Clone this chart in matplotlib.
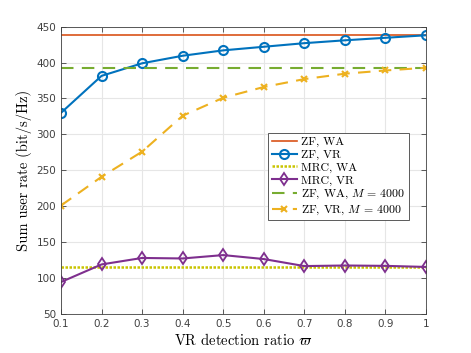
import numpy as np
from matplotlib import pyplot as plt

# VR detection ratio
ratio = [0.1, 0.2, 0.3, 0.4, 0.5, 0.6, 0.7, 0.8, 0.9, 1.0]

zf_wa = [438] * len(ratio)
zf_vr = [330, 381.5, 399, 409.5, 417, 422, 427, 431, 434.5, 438]
mrc_wa = [115] * len(ratio)
mrc_vr = [94.5, 119, 128, 127.3, 132, 126.5, 116.7, 117.5, 117, 115.5]
zf_wa_4000 = [393] * len(ratio)
zf_vr_4000 = [201, 241, 276, 326, 351, 366, 377, 384.5, 389, 392.8]

yticks = [50, 100, 150, 200, 250, 300, 350, 400, 450]
xticks = [0.1, 0.2, 0.3, 0.4, 0.5, 0.6, 0.7, 0.8, 0.9, 1]
xticklabels = ['0.1', '0.2', '0.3', '0.4', '0.5', '0.6', '0.7', '0.8', '0.9', '1']

plt.rcParams['mathtext.fontset'] = 'cm'
plt.rcParams['axes.unicode_minus'] = False
serif = 'cmr10'

f = plt.figure(figsize=(4.71, 3.53), dpi=100)
ax = f.add_axes([0.1295, 0.1105, 0.775, 0.814])

ax.plot(ratio, zf_wa, color='#D95319', lw=1.2, label='ZF, WA')
ax.plot(ratio, zf_vr, color='#0072BD', lw=1.5, marker='o', ms=6.5,
        mfc='none', mew=1.5, label='ZF, VR')
ax.plot(ratio, mrc_wa, color='#C9C400', lw=1.8, ls=(0, (1, 0.6)), label='MRC, WA')
ax.plot(ratio, mrc_vr, color='#7E2F8E', lw=1.5, marker='d', ms=6.5,
        mfc='none', mew=1.3, label='MRC, VR')
ax.plot(ratio, zf_wa_4000, color='#77AC30', lw=1.5, ls=(0, (6, 4)),
        label='ZF, WA, $M$ = 4000')
ax.plot(ratio, zf_vr_4000, color='#EDB120', lw=1.5, ls=(0, (6, 4)),
        marker='x', ms=5, mew=1.5, label='ZF, VR, $M$ = 4000')

ax.set_xlim(0.1, 1)
ax.set_ylim(50, 450)
ax.set_xticks(xticks)
ax.set_xticklabels(xticklabels)
ax.set_yticks(yticks)
ax.grid(True, color='#e6e6e6', lw=0.8)
ax.set_axisbelow(True)
ax.tick_params(direction='in', top=True, right=True, labelsize=7.5,
               colors='#404040', length=3.5, width=0.6)
for sp in ax.spines.values():
    sp.set_color('#404040')
    sp.set_linewidth(0.6)

ax.set_xlabel('VR detection ratio $\\varpi$', family=serif, fontsize=10.5, labelpad=2)
ax.set_ylabel('Sum user rate (bit/s/Hz)', family=serif, fontsize=10.5, labelpad=3)

leg = ax.legend(loc='upper left', bbox_to_anchor=(0.567, 0.629), borderaxespad=0,
                prop={'family': serif, 'size': 8.5}, fancybox=False,
                edgecolor='#404040', framealpha=1, labelspacing=0.2,
                handlelength=2.2, handletextpad=0.3, borderpad=0.3,
                numpoints=1)
leg.get_frame().set_linewidth(0.6)

f.savefig('out.png', dpi=100)
